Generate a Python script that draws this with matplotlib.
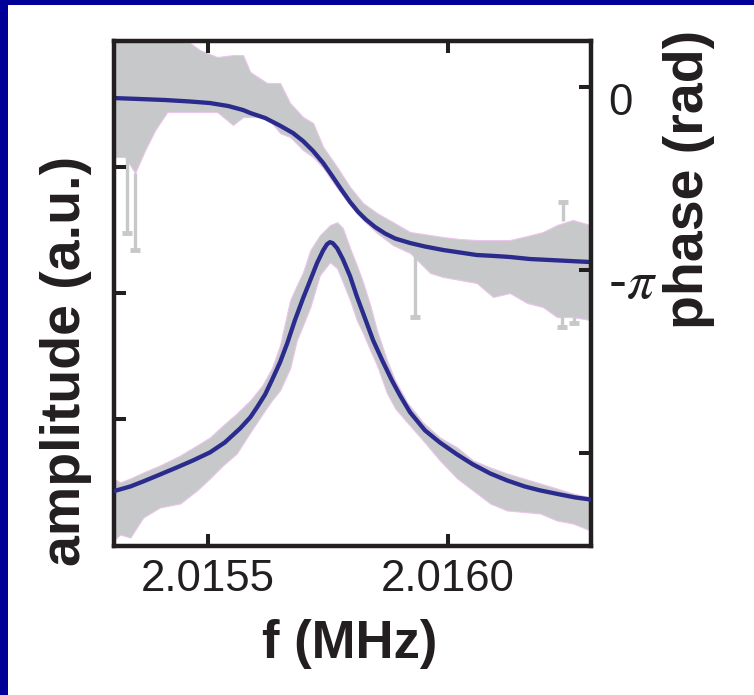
import numpy as np
import matplotlib
matplotlib.use('Agg')
import matplotlib.pyplot as plt
from matplotlib.patches import Rectangle
from matplotlib.transforms import ScaledTranslation

plt.rcParams['font.family'] = ['Liberation Sans', 'DejaVu Sans']
plt.rcParams['mathtext.fontset'] = 'stix'

# ---------------- data ----------------
# frequency axis (MHz)
x_ticks = [2.0155, 2.0160]
x_tick_labels = ['2.0155', '2.0160']

# amplitude: fitted curve
amp_fit_f = [2.015302, 2.015338, 2.015365, 2.015400, 2.015435, 2.015469, 2.015504,
             2.015535, 2.015567, 2.015588, 2.015602, 2.015619, 2.015633, 2.015650,
             2.015665, 2.015681, 2.015698, 2.015713, 2.015727, 2.015740, 2.015748,
             2.015754, 2.015760, 2.015769, 2.015781, 2.015796, 2.015810, 2.015827,
             2.015844, 2.015863, 2.015883, 2.015900, 2.015921, 2.015952, 2.015983,
             2.016019, 2.016052, 2.016088, 2.016123, 2.016160, 2.016192, 2.016233,
             2.016265, 2.016296]
amp_fit = [0.429, 0.468, 0.508, 0.563, 0.619, 0.675, 0.738,
           0.817, 0.929, 1.016, 1.095, 1.198, 1.310, 1.452,
           1.603, 1.786, 1.960, 2.103, 2.238, 2.341, 2.389,
           2.405, 2.397, 2.357, 2.270, 2.135, 1.976, 1.802,
           1.627, 1.468, 1.310, 1.190, 1.056, 0.913, 0.817,
           0.722, 0.643, 0.571, 0.516, 0.468, 0.437, 0.405,
           0.381, 0.365]

# amplitude: measured data envelope (error bars)
amp_band_f = [2.015303, 2.015317, 2.015338, 2.015365, 2.015400, 2.015442, 2.015477,
              2.015504, 2.015531, 2.015560, 2.015588, 2.015613, 2.015633, 2.015650,
              2.015671, 2.015685, 2.015698, 2.015713, 2.015733, 2.015754, 2.015769,
              2.015781, 2.015796, 2.015810, 2.015823, 2.015838, 2.015852, 2.015873,
              2.015890, 2.015915, 2.015948, 2.015983, 2.016019, 2.016052, 2.016088,
              2.016123, 2.016192, 2.016227, 2.016260, 2.016297]
amp_band_hi = [0.532, 0.500, 0.532, 0.579, 0.635, 0.714, 0.794, 0.857, 0.952, 1.048,
               1.151, 1.270, 1.405, 1.587, 1.944, 2.063, 2.167, 2.341, 2.460, 2.540,
               2.563, 2.516, 2.357, 2.222, 2.087, 1.905, 1.706, 1.468, 1.310, 1.135,
               0.976, 0.857, 0.778, 0.675, 0.619, 0.571, 0.492, 0.452, 0.413, 0.381]
amp_band_lo = [0.040, 0.087, 0.063, 0.222, 0.302, 0.333, 0.437, 0.532, 0.635, 0.730,
               0.897, 1.040, 1.151, 1.230, 1.405, 1.627, 1.746, 1.889, 2.143, 2.246,
               2.198, 2.087, 1.944, 1.786, 1.683, 1.548, 1.429, 1.206, 1.087, 0.976,
               0.833, 0.675, 0.532, 0.437, 0.333, 0.278, 0.254, 0.198, 0.175, 0.119]

# phase (rad): fitted curve
ph_fit_f = [2.015302, 2.015358, 2.015410, 2.015463, 2.015504, 2.015542, 2.015573,
            2.015588, 2.015619, 2.015650, 2.015677, 2.015698, 2.015719, 2.015740,
            2.015758, 2.015777, 2.015796, 2.015813, 2.015829, 2.015848, 2.015869,
            2.015890, 2.015921, 2.015952, 2.015990, 2.016025, 2.016060, 2.016098,
            2.016129, 2.016171, 2.016213, 2.016254, 2.016296]
ph_fit = [-0.189, -0.206, -0.223, -0.249, -0.275, -0.326, -0.395,
          -0.446, -0.532, -0.663, -0.790, -0.927, -1.099, -1.305,
          -1.519, -1.751, -1.974, -2.146, -2.275, -2.403, -2.515,
          -2.601, -2.678, -2.738, -2.798, -2.841, -2.884, -2.901,
          -2.918, -2.953, -2.970, -2.987, -3.004]

# phase: measured data envelope
ph_band_f = [2.015303, 2.015327, 2.015348, 2.015369, 2.015390, 2.015415, 2.015463,
             2.015483, 2.015519, 2.015552, 2.015573, 2.015588, 2.015623, 2.015650,
             2.015671, 2.015698, 2.015719, 2.015740, 2.015769, 2.015796, 2.015823,
             2.015852, 2.015885, 2.015921, 2.015963, 2.015990, 2.016025, 2.016060,
             2.016094, 2.016129, 2.016165, 2.016198, 2.016227, 2.016260, 2.016297]
ph_band_hi = [0.79, 0.79, 0.79, 0.79, 0.79, 0.79, 0.755, 0.635, 0.515, 0.549,
              0.549, 0.258, 0.069, 0.069, -0.275, -0.515, -0.618, -1.030, -1.373, -1.717,
              -1.991, -2.163, -2.318, -2.489, -2.541, -2.575, -2.609, -2.627, -2.627, -2.627,
              -2.558, -2.489, -2.369, -2.283, -2.369]
ph_band_lo = [-1.202, -1.202, -1.476, -1.082, -0.738, -0.429, -0.429, -0.429, -0.429, -0.652,
              -0.515, -0.515, -0.515, -0.790, -0.858, -1.082, -1.202, -1.391, -1.734, -2.026,
              -2.283, -2.506, -2.712, -2.850, -3.193, -3.262, -3.313, -3.365, -3.605, -3.537,
              -3.708, -3.777, -3.949, -3.949, -4.000]

# isolated phase outliers (error bar spikes): frequency, start, end
spike_f = [2.015331, 2.015348, 2.015931, 2.016240, 2.016238, 2.016262]
spike_from = [-1.20, -1.476, -2.85, -2.30, -3.90, -3.94]
spike_to = [-2.506, -2.798, -3.949, -1.974, -4.12, -4.051]

ph_ticks = [0.0, -np.pi, -2 * np.pi]
ph_tick_labels = ['0', '-$\\pi$', '']
amp_ticks = [1, 2, 3]

# ---------------- styling ----------------
GRAY = '#c7c8ca'
HALO = '#ecc4ec'
BLUE = '#2b2b8e'
DARK = '#231f20'

fig = plt.figure(figsize=(7.54, 6.95), dpi=100, facecolor='#000099')
fig.add_artist(Rectangle((8 / 754, 0), 1, 1 - 5 / 695, transform=fig.transFigure,
                         facecolor='white', edgecolor='none', zorder=-10))

ax = fig.add_axes([113.5 / 754, 1 - 545.5 / 695, 477 / 754, 504.5 / 695])
ax2 = ax.twinx()
ax.set_zorder(ax2.get_zorder() + 1)
ax.patch.set_visible(False)

# phase (right axis)
ax2.fill_between(ph_band_f, ph_band_lo, ph_band_hi, facecolor=GRAY, edgecolor=HALO,
                 linewidth=0.8, zorder=1)
ax2.vlines(spike_f, spike_from, spike_to, color=GRAY, linewidth=2.4, zorder=1)
ax2.plot(spike_f, spike_to, linestyle='none', marker='_', markersize=7,
         markeredgewidth=3.5, color=GRAY, zorder=1)
ax2.plot(ph_fit_f, ph_fit, color=BLUE, linewidth=3.1, zorder=3,
         solid_joinstyle='round')

# amplitude (left axis)
ax.fill_between(amp_band_f, amp_band_lo, amp_band_hi, facecolor=GRAY, edgecolor=HALO,
                linewidth=0.8, zorder=1)
ax.plot(amp_fit_f, amp_fit, color=BLUE, linewidth=3.1, zorder=3,
        solid_joinstyle='round')

ax.set_xlim(2.015303, 2.016297)
ax.set_ylim(0, 4.0)
ax2.set_ylim(-7.871, 0.790)

ax.set_xticks(x_ticks)
ax.set_xticklabels(x_tick_labels)
ax.set_yticks(amp_ticks)
ax.set_yticklabels([])
ax2.set_yticks(ph_ticks)
ax2.set_yticklabels(ph_tick_labels)

for s in ax.spines.values():
    s.set_linewidth(3.2)
    s.set_color(DARK)
for s in ax2.spines.values():
    s.set_visible(False)

ax.tick_params(axis='x', which='major', direction='in', length=8.6, width=2.9,
               top=True, bottom=True, labelsize=31.5, pad=10, color=DARK, labelcolor=DARK)
ax.tick_params(axis='y', which='major', direction='in', length=8.6, width=2.9,
               left=True, right=False, labelleft=False, color=DARK)
ax2.tick_params(axis='y', which='major', direction='in', length=8.6, width=2.9,
                right=True, labelright=True, labelsize=31.5, pad=12.5, color=DARK,
                labelcolor=DARK)

ax.set_xlabel('f (MHz)', fontsize=38, fontweight='bold', color=DARK)
ax.xaxis.set_label_coords(0.4958, -0.1457)
ax.set_ylabel('amplitude (a.u.)', fontsize=40, fontweight='bold', color=DARK)
ax.yaxis.set_label_coords(-0.046, 0.366)
ax2.set_ylabel('phase (rad)', fontsize=40, fontweight='bold', color=DARK)
ax2.yaxis.set_label_coords(1.153, 0.7265)

# right tick labels sit below their ticks
for i, t in enumerate(ax2.yaxis.get_major_ticks()):
    t.label2.set_verticalalignment('baseline')
    if i == 1:
        t.label2.set_fontsize(39)
    t.label2.set_transform(t.label2.get_transform()
                           + ScaledTranslation(0, -28 / 100, fig.dpi_scale_trans))

fig.savefig('out.png', dpi=100)
